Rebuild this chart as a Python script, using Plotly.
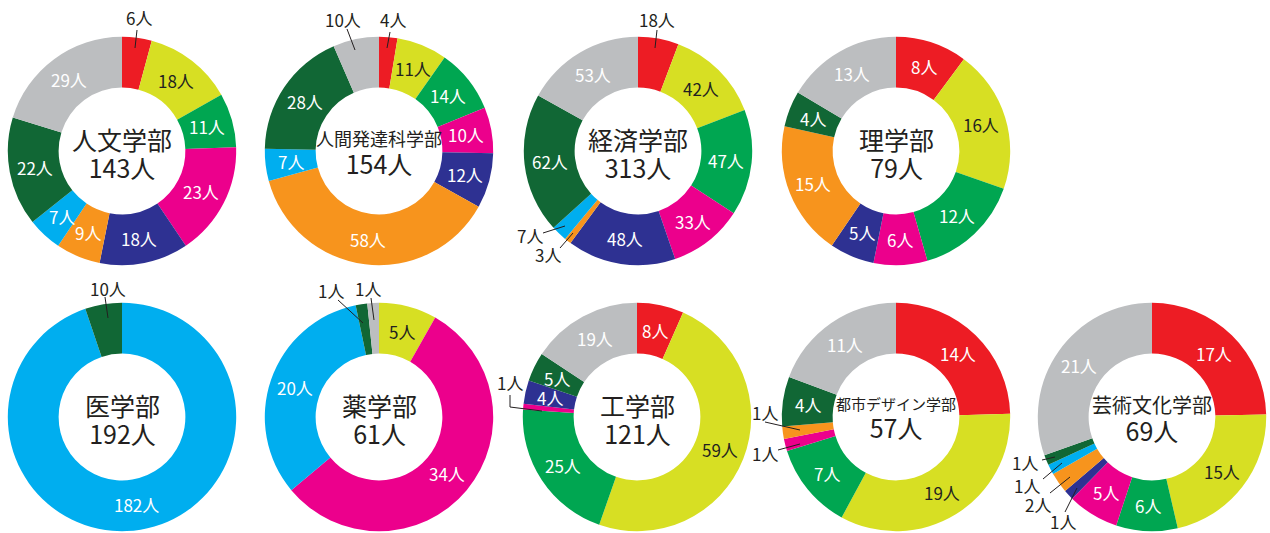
import math
import plotly.graph_objects as go

# ---------------- data ----------------
categories = ["赤", "黄", "緑", "桃", "紺", "橙", "水", "深緑", "灰"]
faculties = ["人文学部", "人間発達科学部", "経済学部", "理学部",
             "医学部", "薬学部", "工学部", "都市デザイン学部", "芸術文化学部"]
jinbun = [6, 18, 11, 23, 18, 9, 7, 22, 29]
ningen = [4, 11, 14, 10, 12, 58, 7, 28, 10]
keizai = [18, 42, 47, 33, 48, 3, 7, 62, 53]
rigaku = [8, 16, 12, 6, 5, 15, 0, 4, 13]
igaku = [0, 0, 0, 0, 0, 0, 182, 10, 0]
yakugaku = [0, 5, 0, 34, 0, 0, 20, 1, 1]
kougaku = [8, 59, 25, 1, 4, 0, 0, 5, 19]
toshi = [14, 19, 7, 1, 0, 1, 0, 4, 11]
geijutsu = [17, 15, 6, 5, 1, 2, 1, 1, 21]
series = [jinbun, ningen, keizai, rigaku, igaku, yakugaku, kougaku, toshi, geijutsu]

# ---------------- style / layout ----------------
W, H = 1270, 533
colors = ["#ED1C24", "#D7DF23", "#00A651", "#EC008C", "#2E3192",
          "#F7941D", "#00AEEF", "#116735", "#BCBEC0"]
label_colors = ["white", "#231F20", "white", "white", "white",
                "white", "white", "white", "white"]
DARK = "#231F20"
FONT = "Noto Sans CJK JP"
R_OUT = 114.2
HOLE = 0.555
centers = [(122, 151), (379, 151), (638, 151), (896, 151),
           (122, 417), (379, 417), (637, 417), (896, 417), (1152, 417)]
title_sizes = [25, 18, 25, 25, 25, 25, 25, 15, 20]

# outside labels: (faculty idx, category idx) -> text pos, leader path (pixels)
outside = {
    (0, 0): ((139, 18), [(137, 30), (135, 48)]),
    (1, 0): ((393, 20), [(390, 32), (387, 48)]),
    (1, 8): ((343, 20), [(347, 29), (355, 50)]),
    (2, 0): ((657, 19), [(657, 30), (655, 48)]),
    (2, 6): ((530, 235), [(543, 233), (565, 226)]),
    (2, 5): ((548, 255), [(560, 248), (573, 233)]),
    (4, 7): ((108, 288), [(105, 297), (108, 318)]),
    (5, 7): ((331, 290), [(338, 300), (363, 323)]),
    (5, 8): ((368, 288), [(371, 298), (374, 320)]),
    (6, 3): ((510, 383), [(510, 395), (510, 407), (542, 411)]),
    (7, 5): ((765, 412), [(765, 422), (800, 430)]),
    (7, 3): ((765, 453), [(778, 450), (800, 444)]),
    (8, 7): ((1025, 462), [(1042, 460), (1055, 457)]),
    (8, 6): ((1027, 485), [(1043, 479), (1062, 463)]),
    (8, 5): ((1038, 504), [(1050, 493), (1070, 477)]),
    (8, 4): ((1063, 521), [(1065, 512), (1077, 488)]),
}


def px(x):
    return x / W


def py(y):
    return 1 - y / H


def text_ann(x, y, text, size, color):
    return dict(x=px(x), y=py(y), xref="paper", yref="paper", text=text,
                showarrow=False, xanchor="center", yanchor="middle",
                font=dict(family=FONT, size=size, color=color))


fig = go.Figure()
annotations = []
shapes = []

for fi, (name, vals) in enumerate(zip(faculties, series)):
    cx, cy = centers[fi]
    fig.add_trace(go.Pie(
        values=vals, labels=categories, sort=False, direction="clockwise",
        rotation=0, hole=HOLE, textinfo="none", hoverinfo="label+value",
        marker=dict(colors=colors, line=dict(width=0)),
        domain=dict(x=[px(cx - R_OUT), px(cx + R_OUT)],
                    y=[py(cy + R_OUT), py(cy - R_OUT)]),
        showlegend=False,
    ))
    total = sum(vals)
    center_text = (f"<span style='font-size:{title_sizes[fi]}px'>{name}</span><br>"
                   f"<span style='font-size:25px'>{total}人</span>")
    annotations.append(text_ann(cx, cy + 2, center_text, 21.5, DARK))
    cum = 0
    r_mid = R_OUT * (1 + HOLE) / 2
    for ci, v in enumerate(vals):
        if v == 0:
            continue
        mid = (cum + v / 2) / total * 2 * math.pi
        cum += v
        if (fi, ci) in outside:
            (tx, ty), path = outside[(fi, ci)]
            annotations.append(text_ann(tx, ty, f"{v}人", 17, DARK))
            d = "M " + " L ".join(f"{px(a)},{py(b)}" for a, b in path)
            shapes.append(dict(type="path", path=d, xref="paper", yref="paper",
                               line=dict(color=DARK, width=1)))
        else:
            lx = cx + r_mid * math.sin(mid)
            ly = cy - r_mid * math.cos(mid)
            annotations.append(text_ann(lx, ly, f"{v}人", 17, label_colors[ci]))

fig.update_layout(width=W, height=H, margin=dict(l=0, r=0, t=0, b=0),
                  paper_bgcolor="white", plot_bgcolor="white",
                  annotations=annotations, shapes=shapes)
fig.write_html("out.html", config={"displayModeBar": False},
               post_script="document.body.style.margin='0';document.body.style.padding='0';")
